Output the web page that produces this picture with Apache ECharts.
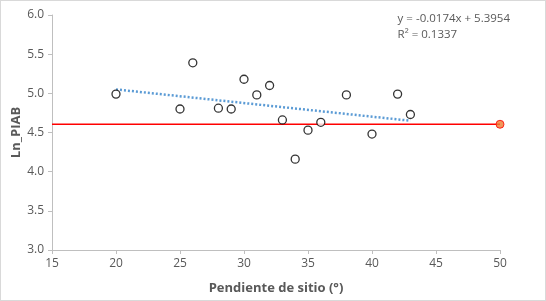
<!DOCTYPE html>
<html>
<head>
<meta charset="utf-8">
<script src="https://cdn.jsdelivr.net/npm/echarts@6/dist/echarts.min.js"></script>
<style>
html, body { margin: 0; padding: 0; background: #fff; }
#chart { width: 546px; height: 301px; box-sizing: border-box; border: 1px solid #d9d9d9; }
</style>
</head>
<body>
<div id="chart"></div>
<script>
// pendiente (°) y Ln_PIAB
var pendiente = [20, 25, 26, 28, 29, 30, 31, 32, 33, 34, 35, 36, 38, 40, 42, 43];
var lnPiab = [4.99, 4.80, 5.39, 4.81, 4.80, 5.18, 4.98, 5.10, 4.66, 4.16, 4.53, 4.63, 4.98, 4.48, 4.99, 4.73];
// linea de tendencia (extremos)
var tendenciaX = [20, 43];
var tendenciaY = [5.05, 4.65];
// linea de referencia roja
var refX = [15, 50];
var refY = [4.605, 4.605];
var puntoRef = [50, 4.605];
var ecuacion = ['y = -0.0174x + 5.3954', 'R² = 0.1337'];

var chart = echarts.init(document.getElementById('chart'));

var option = {
  animation: false,
  grid: { left: 51, right: 45, top: 14, bottom: 50, outerBoundsMode: 'none' },
  textStyle: { fontFamily: 'Open Sans' },
  graphic: [{
    type: 'text',
    right: 35,
    top: 10,
    style: {
      text: ecuacion.join('\n'),
      fill: '#595959',
      font: '11.5px "Open Sans"',
      align: 'center',
      lineHeight: 16
    }
  }],
  xAxis: {
    type: 'value',
    min: 15,
    max: 50,
    interval: 5,
    name: 'Pendiente de sitio (°)',
    nameLocation: 'middle',
    nameGap: 32,
    nameTextStyle: { color: '#595959', fontSize: 13, fontWeight: 'bold' },
    axisLine: { lineStyle: { color: '#bfbfbf' } },
    axisTick: { show: true, length: 4, lineStyle: { color: '#bfbfbf' } },
    axisLabel: { color: '#595959', fontSize: 12, margin: 8 },
    splitLine: { show: false }
  },
  yAxis: {
    type: 'value',
    min: 3.0,
    max: 6.0,
    interval: 0.5,
    name: 'Ln_PIAB',
    nameLocation: 'middle',
    nameGap: 29,
    nameMoveOverlap: false,
    nameRotate: 90,
    nameTextStyle: { color: '#595959', fontSize: 13, fontWeight: 'bold' },
    axisLine: { show: true, lineStyle: { color: '#bfbfbf' } },
    axisTick: { show: true, length: 4, lineStyle: { color: '#bfbfbf' } },
    axisLabel: {
      color: '#595959', fontSize: 12, margin: 8,
      formatter: function (v) { return v.toFixed(1); }
    },
    splitLine: { show: false }
  },
  series: [
    {
      type: 'line',
      data: refX.map(function (x, i) { return [x, refY[i]]; }),
      showSymbol: false,
      lineStyle: { color: '#ff0000', width: 1.5 },
      z: 2
    },
    {
      type: 'line',
      data: tendenciaX.map(function (x, i) { return [x, tendenciaY[i]]; }),
      showSymbol: false,
      lineStyle: { color: '#5b9bd5', width: 2.5, type: [2, 2] },
      z: 3
    },
    {
      type: 'scatter',
      data: pendiente.map(function (x, i) { return [x, lnPiab[i]]; }),
      symbol: 'circle',
      symbolSize: 8,
      itemStyle: { color: '#ffffff', borderColor: '#000000', borderWidth: 1.3 },
      z: 4
    },
    {
      type: 'scatter',
      data: [puntoRef],
      symbol: 'circle',
      symbolSize: 8,
      itemStyle: { color: '#ed7d31', borderColor: '#ff0000', borderWidth: 1 },
      z: 5
    }
  ]
};

chart.setOption(option);
</script>
</body>
</html>
